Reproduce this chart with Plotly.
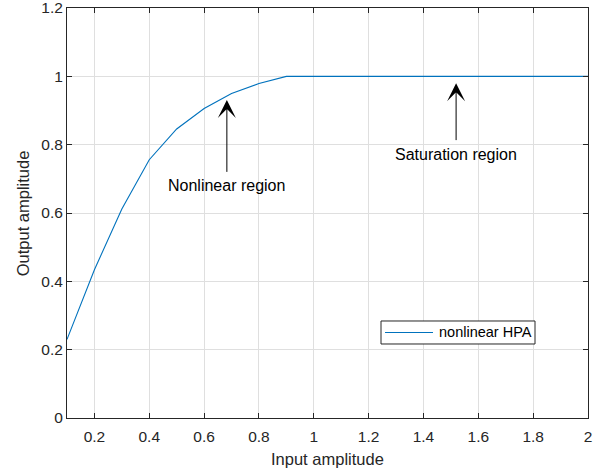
import plotly.graph_objects as go

# HPA transfer characteristic (input amplitude -> output amplitude)
input_amp = [0.1, 0.2, 0.3, 0.4, 0.5, 0.6, 0.7, 0.8, 0.9, 1.0,
             1.1, 1.2, 1.3, 1.4, 1.5, 1.6, 1.7, 1.8, 1.9, 2.0]
output_amp = [0.23, 0.434, 0.612, 0.756, 0.846, 0.906, 0.95, 0.979, 1.0, 1.0,
              1.0, 1.0, 1.0, 1.0, 1.0, 1.0, 1.0, 1.0, 1.0, 1.0]
series_name = "nonlinear HPA"

x_ticks = [0.2, 0.4, 0.6, 0.8, 1.0, 1.2, 1.4, 1.6, 1.8, 2.0]
x_tick_labels = ["0.2", "0.4", "0.6", "0.8", "1", "1.2", "1.4", "1.6", "1.8", "2"]
y_ticks = [0, 0.2, 0.4, 0.6, 0.8, 1.0, 1.2]
y_tick_labels = ["0", "0.2", "0.4", "0.6", "0.8", "1", "1.2"]
x_title = "Input amplitude"
y_title = "Output amplitude"

# Region labels: (text, label x, label y, arrow tail y, arrow tip y)
regions = [
    ("Nonlinear region", 0.683, 0.682, 0.716, 0.931),
    ("Saturation region", 1.519, 0.772, 0.809, 0.98),
]

FONT = "Liberation Sans, Arial, Helvetica, sans-serif"
AX_COLOR = "#262626"
GRID_COLOR = "#dfdfdf"
LINE_COLOR = "#0072BD"

fig = go.Figure()
fig.add_trace(go.Scatter(
    x=input_amp, y=output_amp, mode="lines", name=series_name,
    line=dict(color=LINE_COLOR, width=1.1), showlegend=False,
))

annotations = []
for text, lx, ly, tail_y, tip_y in regions:
    annotations.append(dict(
        x=lx, y=tip_y, ax=lx, ay=tail_y, xref="x", yref="y",
        axref="x", ayref="y", text="", showarrow=True,
        arrowhead=3, arrowsize=3.0, arrowwidth=1, arrowcolor="#000000",
        standoff=0, startstandoff=0,
    ))
    annotations.append(dict(
        x=lx, y=ly, xref="x", yref="y", text=text, showarrow=False,
        xanchor="center", yanchor="middle",
        font=dict(family=FONT, size=16, color="#000000"),
    ))

# Axis titles
annotations.append(dict(
    x=0.5, y=-0.0732, xref="paper", yref="paper", text=x_title,
    showarrow=False, xanchor="center", yanchor="top",
    font=dict(family=FONT, size=16.5, color=AX_COLOR),
))
annotations.append(dict(
    x=-0.0839, y=0.5, xref="paper", yref="paper", text=y_title,
    showarrow=False, xanchor="center", yanchor="middle", textangle=-90,
    font=dict(family=FONT, size=16.5, color=AX_COLOR),
))

# Boxed legend in the lower right of the axes (paper coordinates)
leg_x0, leg_x1, leg_y0, leg_y1 = 0.6027, 0.8983, 0.1805, 0.2366
leg_mid = (leg_y0 + leg_y1) / 2
shapes = [
    dict(type="rect", xref="paper", yref="paper",
         x0=leg_x0, x1=leg_x1, y0=leg_y0, y1=leg_y1,
         line=dict(color=AX_COLOR, width=1), fillcolor="white", layer="above"),
    dict(type="line", xref="paper", yref="paper",
         x0=0.6104, x1=0.7025, y0=leg_mid, y1=leg_mid,
         line=dict(color=LINE_COLOR, width=1.1), layer="above"),
]
annotations.append(dict(
    x=0.7102, y=leg_mid, xref="paper", yref="paper", text=series_name,
    showarrow=False, xanchor="left", yanchor="middle",
    font=dict(family=FONT, size=14.5, color="#000000"),
))

axis_common = dict(
    showline=True, linecolor=AX_COLOR, linewidth=1, mirror="ticks",
    ticks="inside", ticklen=5, tickwidth=1, tickcolor=AX_COLOR,
    showgrid=True, gridcolor=GRID_COLOR, gridwidth=1, zeroline=False,
    automargin=False, ticklabeloverflow="allow",
    tickfont=dict(family=FONT, size=15.5, color=AX_COLOR),
)

fig.update_layout(
    width=603, height=472,
    margin=dict(l=67, r=15, t=8, b=54),
    paper_bgcolor="white", plot_bgcolor="white",
    showlegend=False,
    xaxis=dict(
        range=[0.1, 2.0], tickvals=x_ticks, ticktext=x_tick_labels,
        ticklabelstandoff=4,
        **axis_common,
    ),
    yaxis=dict(
        range=[0, 1.2001], tickvals=y_ticks, ticktext=y_tick_labels,
        **axis_common,
    ),
    shapes=shapes,
    annotations=annotations,
)

fig.write_html("out.html")
